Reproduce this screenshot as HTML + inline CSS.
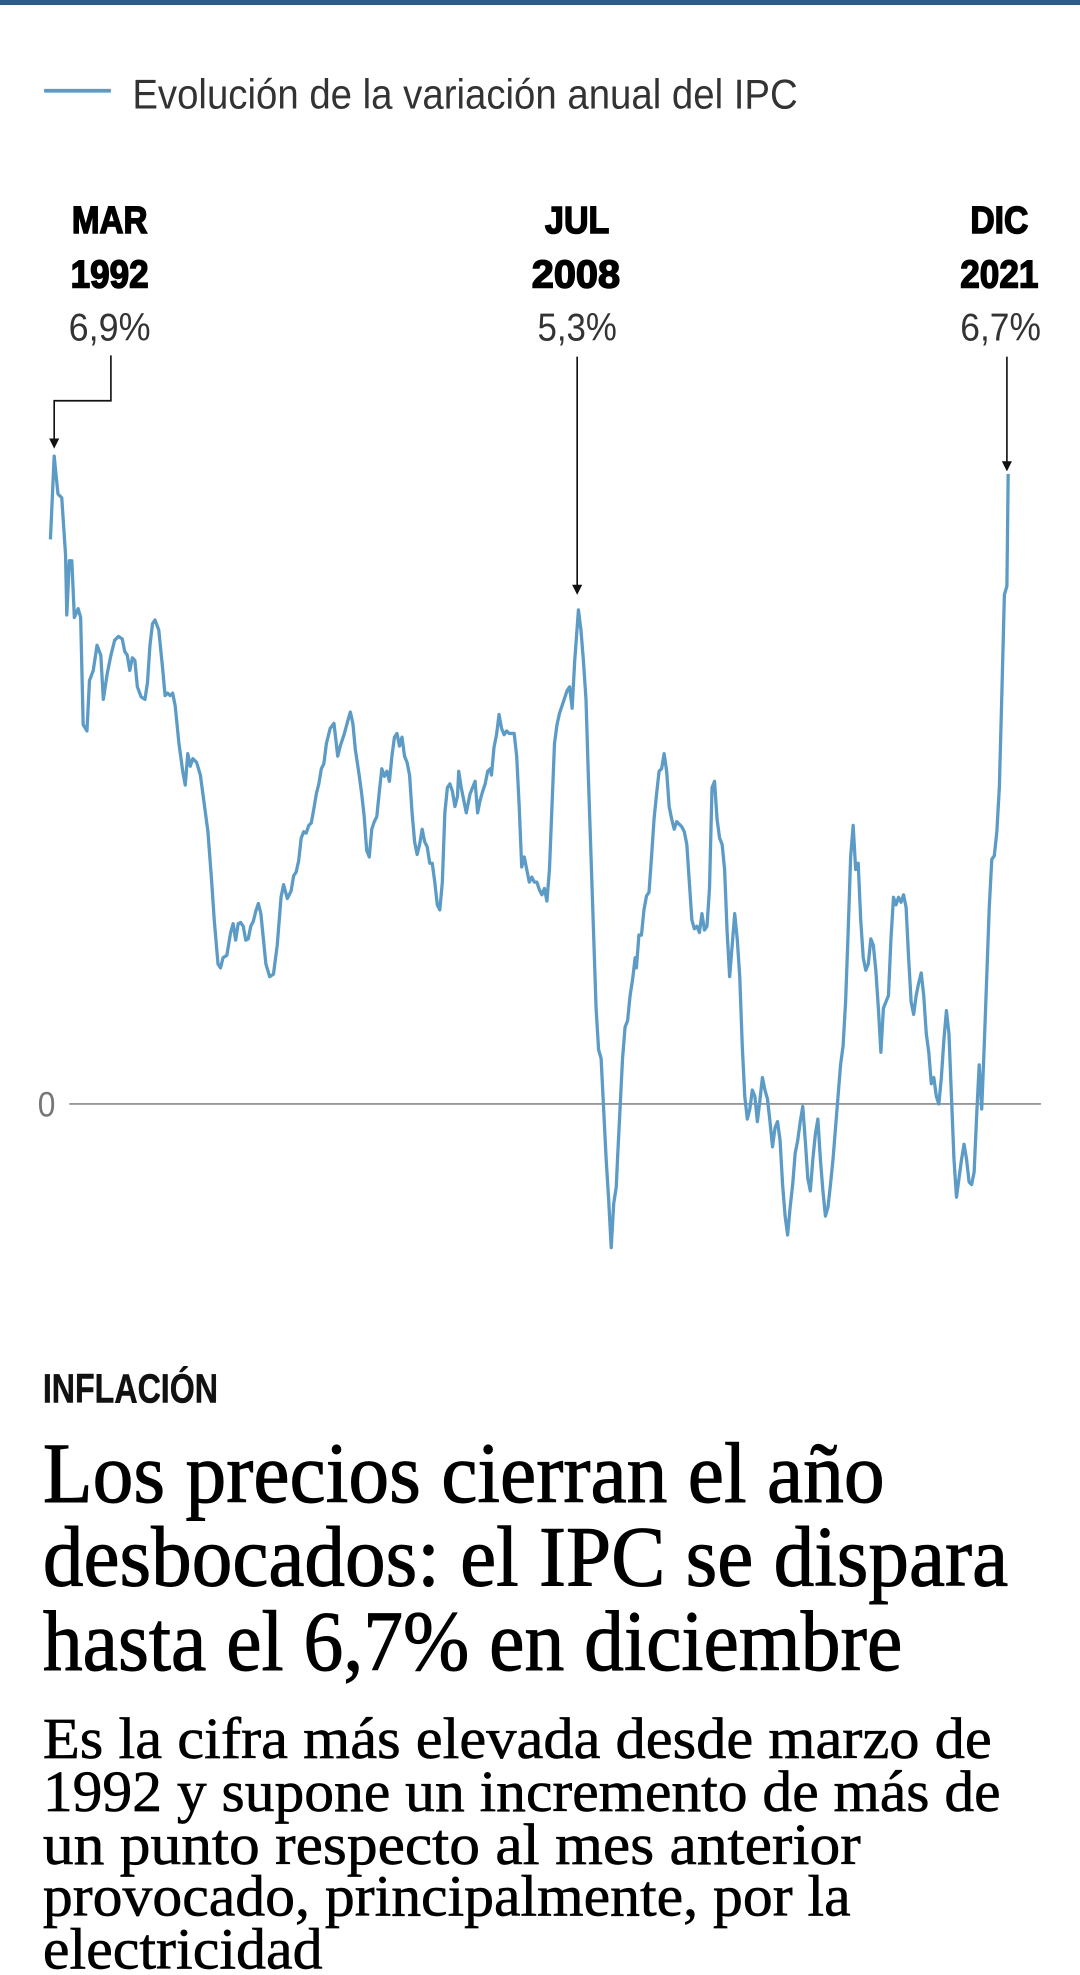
<!DOCTYPE html>
<html><head><meta charset="utf-8"><style>
html,body{margin:0;padding:0;background:#fff;width:1080px;height:1975px;overflow:hidden}
svg{display:block}
</style></head><body>
<svg width="1080" height="1975" viewBox="0 0 857 1567.2" xmlns="http://www.w3.org/2000/svg">
<rect x="0" y="0" width="857" height="4" fill="#2d5d85"/>
<line x1="35" y1="72" x2="88" y2="72" stroke="#5b9bc5" stroke-width="3"/>
<text x="105" y="86" font-family="Liberation Sans, sans-serif" font-size="33" fill="#333" textLength="528" lengthAdjust="spacingAndGlyphs">Evolución de la variación anual del IPC</text>
<g font-family="Liberation Sans, sans-serif" text-anchor="middle" fill="#000">
<g font-weight="bold" stroke="#000" stroke-width="1.2">
<text x="87" y="185" font-size="30" textLength="60" lengthAdjust="spacingAndGlyphs">MAR</text>
<text x="87" y="228" font-size="31" textLength="62" lengthAdjust="spacingAndGlyphs">1992</text>
<text x="458" y="185" font-size="30" textLength="51" lengthAdjust="spacingAndGlyphs">JUL</text>
<text x="457" y="228" font-size="31" textLength="70" lengthAdjust="spacingAndGlyphs">2008</text>
<text x="793" y="185" font-size="30" textLength="46" lengthAdjust="spacingAndGlyphs">DIC</text>
<text x="793" y="228" font-size="31" textLength="62" lengthAdjust="spacingAndGlyphs">2021</text>
</g>
<text x="87" y="270" font-size="31" fill="#333" textLength="65" lengthAdjust="spacingAndGlyphs">6,9%</text>
<text x="458" y="270" font-size="31" fill="#333" textLength="63" lengthAdjust="spacingAndGlyphs">5,3%</text>
<text x="794" y="270" font-size="31" fill="#333" textLength="64" lengthAdjust="spacingAndGlyphs">6,7%</text>
</g>
<g stroke="#111" stroke-width="1.3" fill="none">
<polyline points="88,282 88,318 43,318 43,350"/>
<line x1="458" y1="283" x2="458" y2="466"/>
<line x1="799" y1="283" x2="799" y2="368"/>
</g>
<g fill="#111">
<polygon points="39,348 47,348 43,356"/>
<polygon points="454,464 462,464 458,472"/>
<polygon points="795,366 803,366 799,374"/>
</g>
<line x1="55" y1="876" x2="826" y2="876" stroke="#888" stroke-width="1.3"/>
<text x="37" y="886" font-family="Liberation Sans, sans-serif" font-size="28" fill="#777" text-anchor="middle" textLength="14" lengthAdjust="spacingAndGlyphs">0</text>
<polyline fill="none" stroke="#5b9bc5" stroke-width="2.6" stroke-linejoin="round" points="40,428 43,362 46,392 49,395 52,440 53,488 55,445 57,445 59,490 62,483 64,490 66,575 69,580 71,540 74,532 77,512 80,520 82,555 85,535 88,520 91,508 94,505 97,507 99,517 101,520 103,532 105,522 107,524 109,545 112,553 115,555 117,542 119,512 121,495 123,492 126,500 129,530 131,552 133,550 135,552 137,550 139,560 142,590 145,612 147,623 149,598 151,608 153,602 156,605 159,615 161,630 163,645 165,660 168,700 170,730 173,765 175,768 177,760 180,758 183,740 185,733 187,746 189,733 191,732 193,735 195,746 197,745 199,735 201,731 203,723 205,717 207,725 209,745 211,765 214,775 217,773 220,750 223,712 225,702 228,713 231,707 233,695 235,692 237,683 239,665 241,660 243,661 245,655 247,653 249,642 251,630 253,622 255,610 257,606 259,590 262,578 265,574 268,600 270,592 273,583 276,572 278,565 280,574 282,595 285,615 287,630 289,648 291,675 293,680 295,658 297,652 299,648 301,628 303,610 305,616 307,612 309,620 311,600 313,585 315,582 317,592 319,585 321,600 323,605 325,615 327,645 329,668 331,678 333,670 335,658 337,668 339,672 341,685 343,685 345,700 347,718 349,722 351,700 353,645 355,625 357,622 359,628 361,640 363,632 364,612 366,625 368,635 370,645 373,630 375,625 377,620 379,645 381,635 383,628 385,622 387,612 389,610 390,615 392,593 394,583 396,567 398,578 400,583 402,580 404,582 406,582 408,582 410,600 412,640 414,688 416,680 418,690 420,700 422,696 424,700 426,700 428,706 430,710 432,705 434,715 436,690 438,640 440,590 442,575 444,566 446,560 448,554 450,548 452,545 454,562 456,525 459,484 461,500 463,525 465,555 467,620 469,680 471,740 473,800 475,833 477,840 479,880 481,920 483,952 485,990 487,955 489,942 490,920 492,880 494,840 496,815 498,810 500,790 502,777 504,760 505,768 507,742 509,742 511,722 513,711 515,708 517,680 519,650 521,630 523,612 525,610 527,598 529,612 531,640 533,650 535,658 537,652 539,654 541,656 543,660 545,670 547,700 549,730 551,737 553,735 555,740 557,725 559,738 561,735 563,705 565,625 567,620 569,650 571,665 573,670 575,690 577,740 579,775 581,750 583,725 585,745 587,775 589,830 591,870 593,888 595,880 597,865 599,870 601,890 603,873 605,855 607,865 609,872 611,890 613,910 615,895 617,890 619,905 621,940 623,965 625,980 627,958 629,940 631,915 633,905 635,890 637,878 639,905 641,935 643,945 645,920 647,900 649,888 651,920 653,945 655,965 657,958 659,940 661,920 663,895 665,870 667,845 669,830 671,795 673,740 675,680 677,655 679,690 681,685 683,730 685,760 687,770 689,765 691,745 693,750 695,770 697,800 699,835 701,800 703,795 705,790 707,745 709,712 711,718 713,712 715,716 717,710 719,720 721,760 723,795 725,805 727,790 729,780 731,772 733,790 735,820 737,835 739,860 741,855 743,870 745,876 747,855 749,825 751,802 753,820 755,870 757,920 759,950 761,935 763,920 765,908 767,920 769,938 771,940 773,930 775,885 777,845 779,880 781,830 783,775 785,720 787,682 789,679 791,660 793,625 795,550 797,472 799,465 800,376"/>
<text x="34" y="1113" font-family="Liberation Sans, sans-serif" font-weight="bold" font-size="32" fill="#111" stroke="#111" stroke-width="0.4" textLength="139" lengthAdjust="spacingAndGlyphs">INFLACIÓN</text>
<g font-family="Liberation Serif, serif" fill="#000" stroke="#000">
<text x="34" y="1192" font-size="68" stroke-width="0.8" textLength="668" lengthAdjust="spacingAndGlyphs">Los precios cierran el año</text>
<text x="34" y="1258" font-size="68" stroke-width="0.8" textLength="766" lengthAdjust="spacingAndGlyphs">desbocados: el IPC se dispara</text>
<text x="34" y="1325" font-size="68" stroke-width="0.8" textLength="682" lengthAdjust="spacingAndGlyphs">hasta el 6,7% en diciembre</text>
<text x="34" y="1395" font-size="46" stroke-width="0.5" textLength="753" lengthAdjust="spacingAndGlyphs">Es la cifra más elevada desde marzo de</text>
<text x="34" y="1437" font-size="46" stroke-width="0.5" textLength="760" lengthAdjust="spacingAndGlyphs">1992 y supone un incremento de más de</text>
<text x="34" y="1479" font-size="46" stroke-width="0.5" textLength="649" lengthAdjust="spacingAndGlyphs">un punto respecto al mes anterior</text>
<text x="34" y="1520" font-size="46" stroke-width="0.5" textLength="641" lengthAdjust="spacingAndGlyphs">provocado, principalmente, por la</text>
<text x="34" y="1562" font-size="46" stroke-width="0.5" textLength="222" lengthAdjust="spacingAndGlyphs">electricidad</text>
</g>
</svg>
</body></html>
